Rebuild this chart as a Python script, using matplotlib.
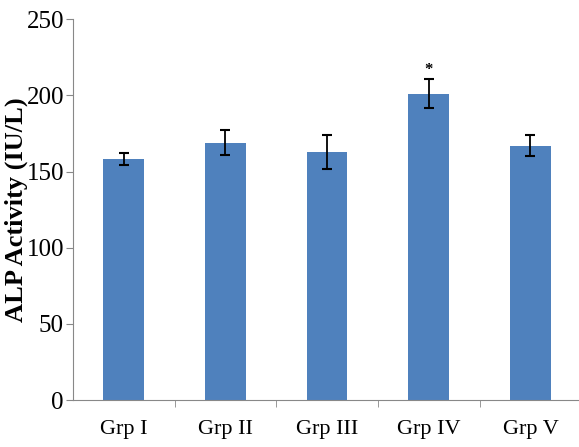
import numpy as np
import matplotlib.pyplot as plt

groups = ['Grp I', 'Grp II', 'Grp III', 'Grp IV', 'Grp V']
alp = [158, 169, 163, 201, 167]
alp_err = [4, 8, 11, 9.5, 7]
marks = ['', '', '', '*', '']

plt.rcParams['font.family'] = ['Liberation Serif', 'DejaVu Serif']

fig = plt.figure(figsize=(5.79, 4.47), dpi=100)
ax = fig.add_axes([0.126, 0.105, 0.878, 0.852])

x = np.arange(len(groups))
ax.bar(x, alp, width=0.4, color='#4F81BD', yerr=alp_err,
       error_kw=dict(ecolor='black', elinewidth=1.3, capsize=3.5, capthick=1.5))

for xi, v, e, m in zip(x, alp, alp_err, marks):
    if m:
        ax.text(xi, v + e + 1, m, ha='center', va='bottom', fontsize=12,
                fontweight='bold')

ax.set_xlim(-0.5, len(groups) - 0.5)
ax.set_ylim(0, 250)
ax.set_yticks(np.arange(0, 251, 50))
ax.set_xticks(x)
ax.set_xticklabels(groups, fontsize=16)
ax.set_xticks(np.arange(0.5, len(groups) - 0.5), minor=True)
ax.tick_params(axis='x', which='major', length=0, pad=14)
ax.tick_params(axis='x', which='minor', length=5, color='#888888')
ax.tick_params(axis='y', labelsize=18, length=5, color='#888888', pad=1.5)
ax.set_ylabel('ALP Activity (IU/L)', fontsize=19, fontweight='bold')
ax.yaxis.set_label_coords(-0.088, 0.5)

for s in ['top', 'right']:
    ax.spines[s].set_visible(False)
for s in ['left', 'bottom']:
    ax.spines[s].set_color('#888888')

fig.savefig('out.png', dpi=100)
